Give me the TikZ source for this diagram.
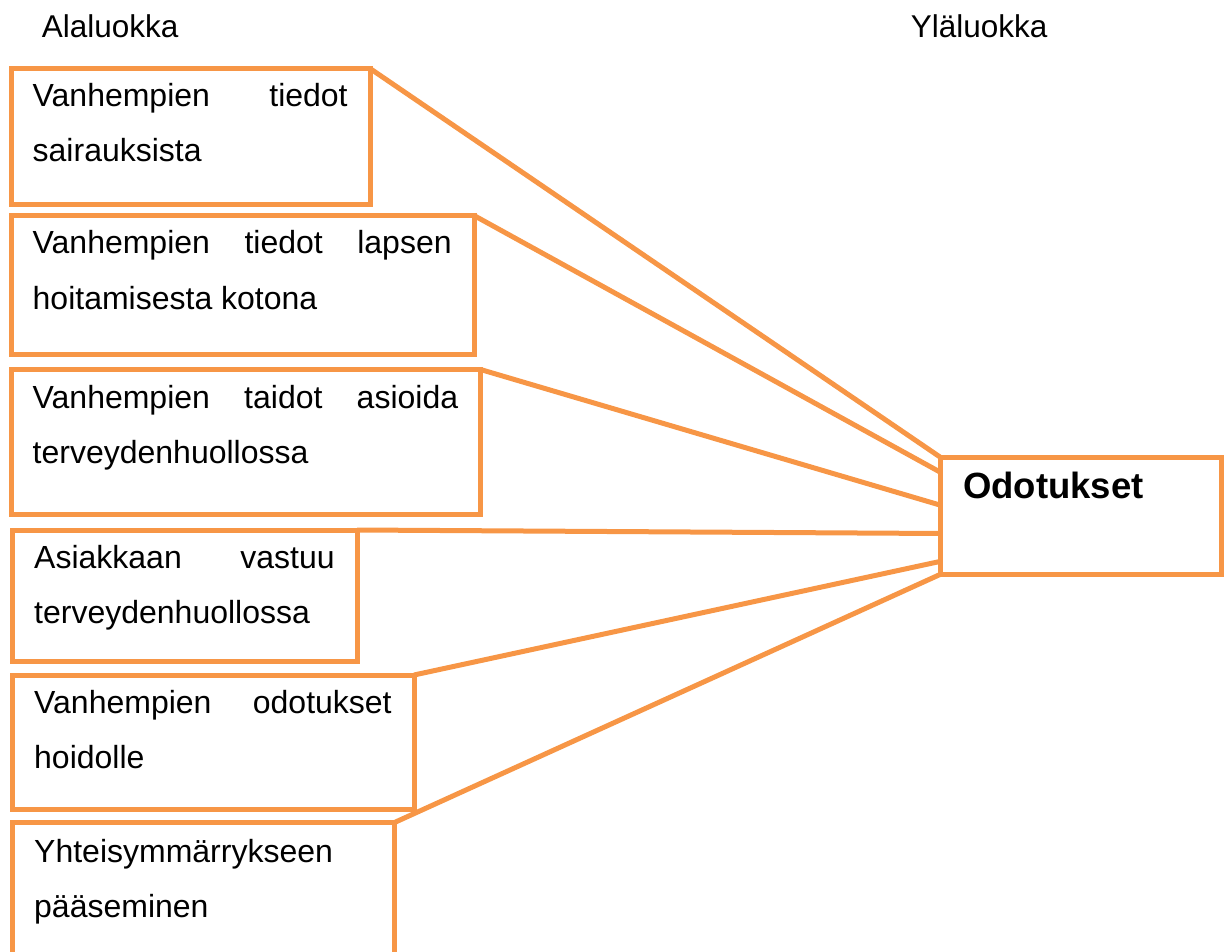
\documentclass[tikz,border=0pt]{standalone}
\usepackage{fontspec}
\setmainfont{Liberation Sans}
\usetikzlibrary{calc}
\definecolor{orng}{HTML}{F79646}
% one justified line spread to the full width of its box
\newcommand\spreadline[1]{\makebox[\linewidth][s]{#1}}
\newcommand\boxtext[2]{\parbox[t]{#1}{\fontsize{32}{55}\selectfont #2}}
\begin{document}
\begin{tikzpicture}[x=1pt,y=-1pt,
  catbox/.style={draw=orng, line width=5pt, rectangle, outer sep=0pt,
    inner sep=0pt, anchor=north west},
  link/.style={draw=orng, line width=5pt},
  boxlabel/.style={inner sep=0pt, anchor=base west},
  heading/.style={inner sep=0pt, anchor=base west,
    font=\fontsize{31.5}{38}\selectfont}]
\useasboundingbox (0,0) rectangle (1229,952);
\clip (0,0) rectangle (1229,952);

% column headings
\node[heading] (sub) at (41.7,37.5) {Alaluokka};
\node[heading] (main) at (910.7,37.5) {Yläluokka};

% subcategory boxes
\node[catbox, minimum width=359pt, minimum height=136pt] (b1) at (11,68.5) {};
\node[catbox, minimum width=463pt, minimum height=139pt] (b2) at (11,215.5) {};
\node[catbox, minimum width=469.5pt, minimum height=145pt] (b3) at (11,369.5) {};
\node[catbox, minimum width=344.5pt, minimum height=131pt] (b4) at (12.5,530) {};
\node[catbox, minimum width=401.5pt, minimum height=134pt] (b5) at (12.5,675) {};
\node[catbox, minimum width=382pt, minimum height=160pt] (b6) at (12.5,822.5) {};

\node[boxlabel] (t1) at ($(b1.north west)+(21.5,38.5)$)
  {\boxtext{315pt}{\spreadline{Vanhempien tiedot}\\sairauksista}};
\node[boxlabel] (t2) at ($(b2.north west)+(21.5,38.5)$)
  {\boxtext{419pt}{\spreadline{Vanhempien tiedot lapsen}\\hoitamisesta kotona}};
\node[boxlabel] (t3) at ($(b3.north west)+(21.5,38.5)$)
  {\boxtext{425.5pt}{\spreadline{Vanhempien taidot asioida}\\terveydenhuollossa}};
\node[boxlabel] (t4) at ($(b4.north west)+(21.5,38.5)$)
  {\boxtext{300.5pt}{\spreadline{Asiakkaan vastuu}\\terveydenhuollossa}};
\node[boxlabel] (t5) at ($(b5.north west)+(21.5,38.5)$)
  {\boxtext{357.5pt}{\spreadline{Vanhempien odotukset}\\hoidolle}};
\node[boxlabel] (t6) at ($(b6.north west)+(21.5,39.5)$)
  {\boxtext{338pt}{Yhteisymmärrykseen\\pääseminen}};

% main category box
\node[catbox, minimum width=281pt, minimum height=117.5pt] (od) at (940,457) {};
\node[boxlabel, font=\fontsize{36.5}{44}\selectfont\bfseries] (odt)
  at ($(od.north west)+(23,41)$) {Odotukset};

% connectors from each subcategory to the main category
\draw[link] (b1.north east) -- (od.north west);
\draw[link] (b2.north east) -- ($(od.north west)!0.128!(od.south west)$);
\draw[link] (b3.north east) -- ($(od.north west)!0.409!(od.south west)$);
\draw[link] (b4.north east) -- ($(od.north west)!0.651!(od.south west)$);
\draw[link] (b5.north east) -- ($(od.north west)!0.889!(od.south west)$);
\draw[link] (b6.north east) -- (od.south west);
\end{tikzpicture}
\end{document}
